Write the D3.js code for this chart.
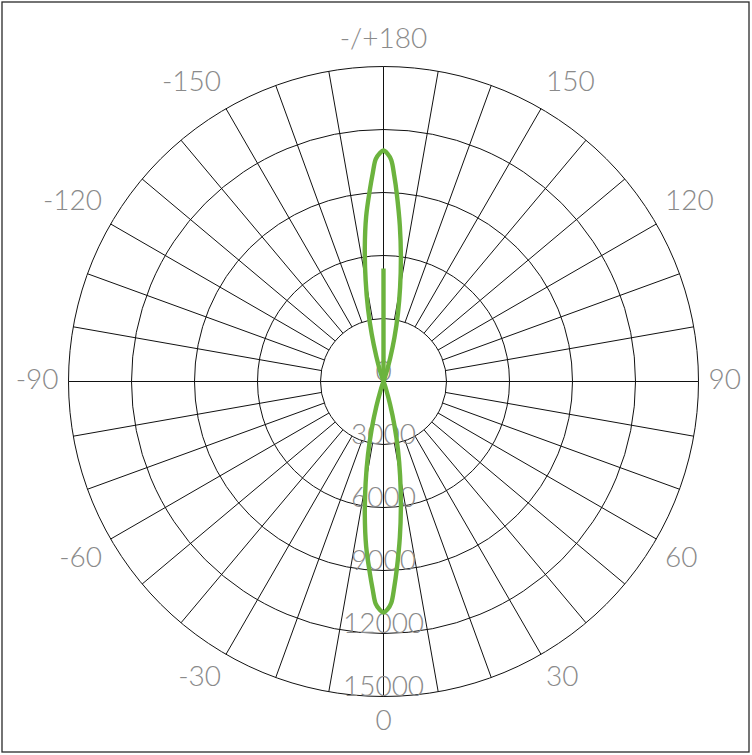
<!DOCTYPE html>
<html>
<head>
<meta charset="utf-8">
<script src="https://cdn.jsdelivr.net/npm/d3@7"></script>
<style>
  html, body { margin: 0; padding: 0; background: #fff; }
  svg { display: block; }
</style>
</head>
<body>
<svg id="chart" width="752" height="755"></svg>
<script>
// ---- data ----
const angleTicks = [-150, -120, -90, -60, -30, 0, 30, 60, 90, 120, 150, 180];
const angleTickLabels = ["-150", "-120", "-90", "-60", "-30", "0", "30", "60", "90", "120", "150", "-/+180"];
const radialTicks = [0, 3000, 6000, 9000, 12000, 15000];
const radialTickLabels = ["0", "3000", "6000", "9000", "12000", "15000"];
const gridAngles = d3.range(0, 360, 10);

// gamma angles (deg) and intensities (cd): C0 plane drawn on the right half, C180 on the left half
const gamma = [0, 1, 2, 3, 4, 6, 8, 10, 12, 14, 16, 18, 20, 22, 90, 158, 160, 162, 164, 166, 168, 170, 172, 174, 176, 177, 178, 179, 180];
const intensityC0 = [11000, 10850, 10550, 9800, 9000, 7450, 5950, 4550, 3300, 2150, 1150, 450, 80, 0, 0, 0, 80, 450, 1150, 2150, 3300, 4550, 5950, 7450, 9000, 9800, 10550, 10850, 11000];
const intensityC180 = [11000, 10860, 10600, 9900, 9200, 7900, 6400, 4900, 3550, 2320, 1240, 490, 90, 0, 0, 0, 90, 490, 1240, 2320, 3550, 4900, 6400, 7900, 9200, 9900, 10600, 10860, 11000];
// C90 plane: collapsed to a single upward spike
const gammaC90 = [180, 180];
const intensityC90 = [0, 5380];

// ---- layout ----
const cx = 383.5, cy = 381.5;
const rMax = 315;
const svg = d3.select("#chart");

const r = d3.scaleLinear().domain([0, 15000]).range([0, rMax]);
// screen angle: 0 at bottom, 90 right, 180 top, -90 left -> radial angle (clockwise from top)
const toRad = a => (180 - a) * Math.PI / 180;

svg.append("rect")
  .attr("x", 2).attr("y", 2).attr("width", 747).attr("height", 750)
  .attr("fill", "none").attr("stroke", "#2a2a2a").attr("stroke-width", 1.3);

const g = svg.append("g").attr("transform", `translate(${cx},${cy})`);

// grid circles
g.selectAll("circle.grid")
  .data(radialTicks.filter(d => d > 0))
  .join("circle")
  .attr("class", "grid")
  .attr("r", d => r(d))
  .attr("fill", "none")
  .attr("stroke", "#111")
  .attr("stroke-width", 1);

// radial spokes
g.selectAll("line.spoke")
  .data(gridAngles)
  .join("line")
  .attr("class", "spoke")
  .attr("x1", d => (d % 90 === 0 ? 0 : r(3000)) * Math.sin(toRad(d)))
  .attr("y1", d => -(d % 90 === 0 ? 0 : r(3000)) * Math.cos(toRad(d)))
  .attr("x2", d => r(15000) * Math.sin(toRad(d)))
  .attr("y2", d => -r(15000) * Math.cos(toRad(d)))
  .attr("stroke", "#111")
  .attr("stroke-width", 1);

const labelFont = "Lato, 'Noto Sans', sans-serif";
const labelColor = "#8a8a8a";

// angle labels: label box corner touches a circle of radius labR
const labR = 325;
const sgn = v => (Math.abs(v) < 1e-6 ? 0 : Math.sign(v));
g.selectAll("text.ang")
  .data(angleTicks)
  .join("text")
  .attr("class", "ang")
  .attr("x", d => labR * Math.sin(toRad(d)))
  .attr("y", d => {
    const c = Math.cos(toRad(d));
    return -labR * c - sgn(c) * 16 - 4;
  })
  .attr("text-anchor", d => {
    const s = sgn(Math.sin(toRad(d)));
    return s > 0 ? "start" : s < 0 ? "end" : "middle";
  })
  .attr("dominant-baseline", "central")
  .attr("font-family", labelFont)
  .attr("font-weight", 300)
  .attr("font-size", 28)
  .attr("fill", labelColor)
  .text((d, i) => angleTickLabels[i]);

// radial labels
g.selectAll("text.rad")
  .data(radialTicks)
  .join("text")
  .attr("class", "rad")
  .attr("x", 0)
  .attr("y", d => r(d) - 1)
  .attr("text-anchor", "middle")
  .attr("font-family", labelFont)
  .attr("font-weight", 300)
  .attr("font-size", 28)
  .attr("fill", labelColor)
  .text((d, i) => radialTickLabels[i]);

// curves
const pts = [];
gamma.forEach((a, i) => pts.push({ a: a, v: intensityC0[i] }));
for (let i = gamma.length - 2; i >= 1; i--) pts.push({ a: -gamma[i], v: intensityC180[i] });

const line = d3.lineRadial()
  .angle(d => toRad(d.a))
  .radius(d => r(d.v))
  .curve(d3.curveCatmullRomClosed.alpha(0.5));

const green = "#6cb33e";
g.append("path")
  .datum(pts)
  .attr("d", line)
  .attr("fill", "none")
  .attr("stroke", green)
  .attr("stroke-width", 4.4)
  .attr("stroke-linejoin", "round");

const spike = gammaC90.map((a, i) => ({ a: a, v: intensityC90[i] }));
g.append("path")
  .datum(spike)
  .attr("d", d3.lineRadial().angle(d => toRad(d.a)).radius(d => r(d.v)))
  .attr("fill", "none")
  .attr("stroke", green)
  .attr("stroke-width", 4.4);
</script>
</body>
</html>
